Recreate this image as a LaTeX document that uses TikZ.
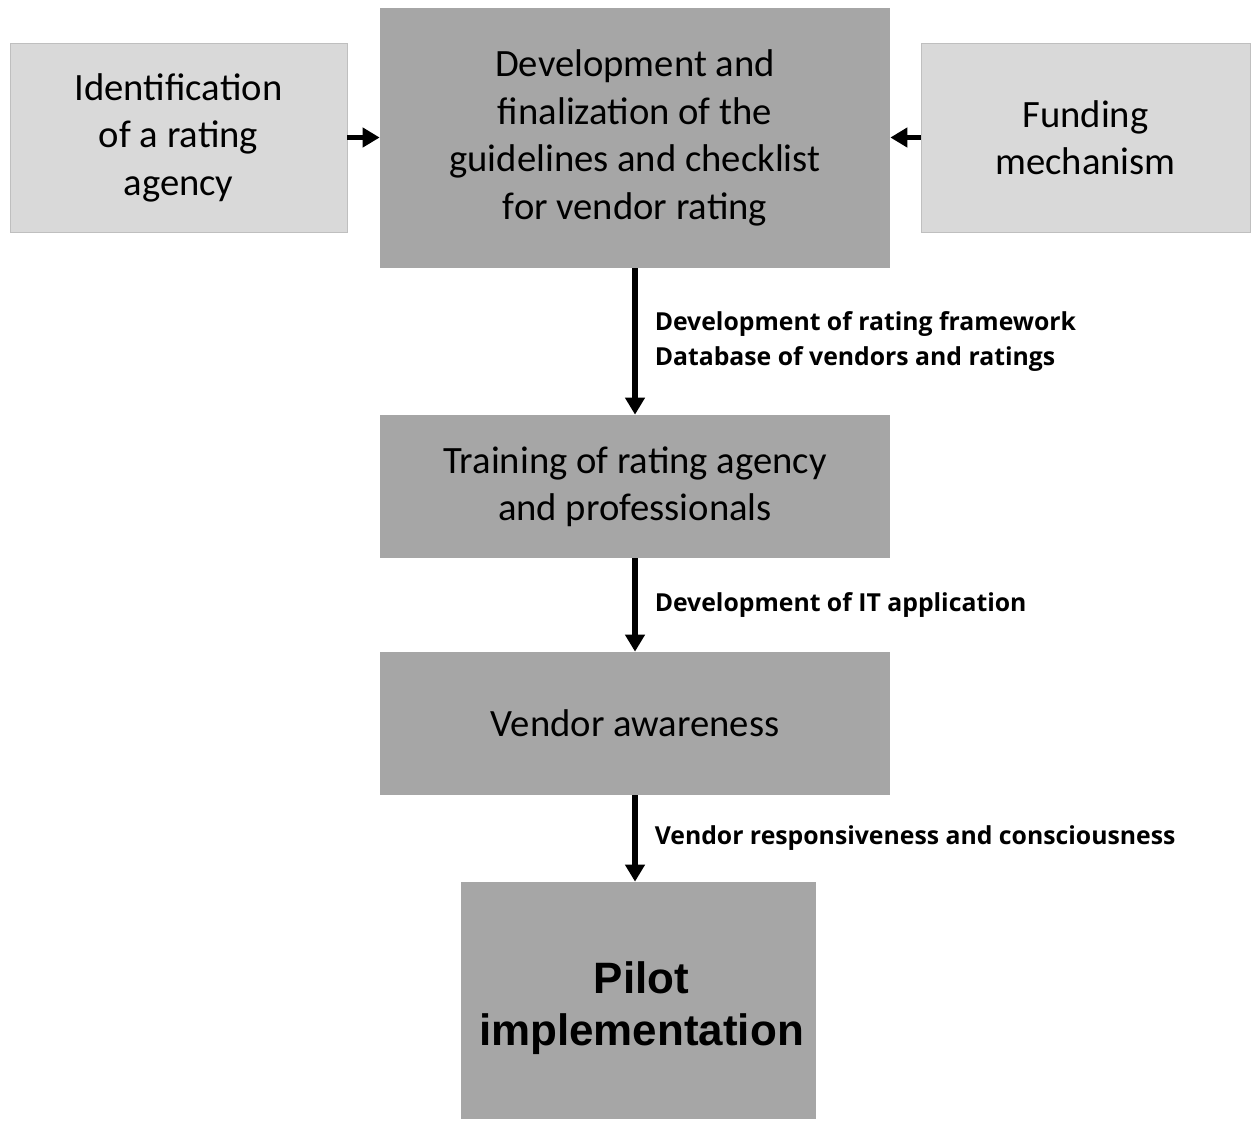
\documentclass[tikz,border=0pt]{standalone}
\usepackage{fontspec}
\setmainfont{Carlito}
\newfontfamily\notefont{Open Sans}
\newfontfamily\pilotfont{Liberation Sans}
\usetikzlibrary{arrows.meta}

\begin{document}
\begin{tikzpicture}[
    lightbox/.style={fill=black!15, draw=black!25, line width=0.4pt, align=center, font=\fontsize{22}{27}\selectfont, inner sep=0pt},
    darkbox/.style={fill=black!35, align=center, font=\fontsize{22}{27}\selectfont, inner sep=0pt},
    flow/.style={line width=0.11cm, -{Triangle[width=0.38cm,length=0.34cm]}},
    note/.style={right=0.34cm, inner sep=0pt, align=left, font=\notefont\bfseries\fontsize{14.1}{20}\selectfont}
]

    \useasboundingbox (0, 0) rectangle (25.04, -22.42);

    % the boxes
    \node[lightbox, minimum width=6.74cm, minimum height=3.78cm] (ident) at (3.57, -2.75) {Identification\\of a rating\\agency};
    \node[darkbox, minimum width=10.2cm, minimum height=5.2cm] (dev) at (12.70, -2.76) {Development and\\finalization of the\\guidelines and checklist\\for vendor rating};
    \node[lightbox, minimum width=6.58cm, minimum height=3.78cm] (fund) at (21.71, -2.75) {Funding\\mechanism};

    \node[darkbox, minimum width=10.2cm, minimum height=2.86cm] (train) at (12.70, -9.73) {Training of rating agency\\and professionals};
    \node[darkbox, minimum width=10.2cm, minimum height=2.86cm] (aware) at (12.70, -14.47) {Vendor awareness};
    \node[darkbox, minimum width=7.1cm, minimum height=4.74cm,
        label={[align=center, yshift=-0.16cm, xshift=0.06cm, font=\pilotfont\bfseries\fontsize{25}{29.5}\selectfont]center:Pilot\\implementation}] (pilot) at (12.77, -20.01) {};

    % side arrows
    \draw[flow] (ident.east) -- (ident.east -| dev.west);
    \draw[flow] (fund.west) -- (fund.west -| dev.east);

    % main flow
    \draw[flow] (dev.south) -- (train.north) node[midway, note] {Development of rating framework\\Database of vendors and ratings};
    \draw[flow] (train.south) -- (aware.north) node[midway, note] {Development of IT application};
    \draw[flow] (aware.south) -- (aware.south |- pilot.north) node[midway, note] {Vendor responsiveness and consciousness};
\end{tikzpicture}
\end{document}
